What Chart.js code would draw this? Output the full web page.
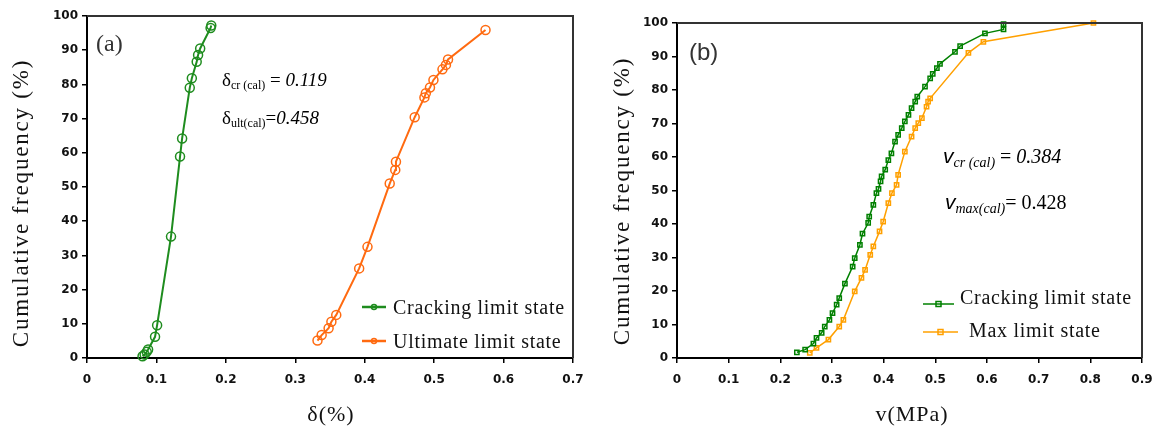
<!DOCTYPE html>
<html><head><meta charset="utf-8">
<script src="https://cdn.jsdelivr.net/npm/chart.js@4/dist/chart.umd.min.js"></script>
<style>
html,body{margin:0;padding:0;background:#fff;}
#wrap{position:relative;width:1160px;height:438px;overflow:hidden;background:#fff;}
canvas{position:absolute;top:0;}
</style></head><body>
<div id="wrap">
<canvas id="ca" width="590" height="438" style="left:0"></canvas>
<canvas id="cb" width="570" height="438" style="left:590px"></canvas>
</div>
<script>
// ---- Panel (a) data ----
const crackA_delta = [0.080,0.083,0.086,0.088,0.098,0.101,0.121,0.134,0.137,0.148,0.151,0.158,0.160,0.163,0.178,0.179];
const crackA_freq  = [0.5,1.0,1.8,2.5,6.2,9.6,35.5,58.9,64.2,79.0,81.8,86.6,88.6,90.5,96.5,97.2];
const ultA_delta = [0.332,0.338,0.348,0.352,0.359,0.392,0.404,0.436,0.444,0.445,0.472,0.486,0.488,0.494,0.499,0.512,0.517,0.520,0.574];
const ultA_freq  = [5.1,6.7,8.7,10.6,12.6,26.2,32.5,51.0,55.0,57.4,70.4,76.2,77.4,79.1,81.3,84.4,85.7,87.3,95.9];
// ---- Panel (b) data ----
const crackB_v = [0.232,0.248,0.264,0.270,0.280,0.286,0.295,0.301,0.309,0.314,0.325,0.340,0.344,0.354,0.359,0.370,0.372,0.380,0.386,0.390,0.394,0.396,0.403,0.409,0.415,0.422,0.428,0.435,0.441,0.448,0.454,0.461,0.465,0.480,0.490,0.495,0.503,0.509,0.538,0.548,0.596,0.632,0.632];
const crackB_freq = [1.7,2.5,4.3,6.0,7.5,9.4,11.4,13.4,15.9,17.9,22.2,27.3,29.8,33.8,37.1,40.3,42.2,45.7,49.2,50.5,52.7,54.2,56.2,59.1,61.1,64.6,66.6,68.6,70.6,72.6,74.6,76.5,78.0,81.0,83.5,84.8,86.5,87.8,91.4,93.1,96.9,98.1,99.7];
const maxB_v = [0.257,0.270,0.293,0.314,0.322,0.344,0.357,0.364,0.374,0.380,0.392,0.399,0.409,0.416,0.425,0.428,0.441,0.454,0.461,0.467,0.474,0.483,0.486,0.490,0.564,0.593,0.806];
const maxB_freq = [1.5,3.0,5.5,9.4,11.4,19.9,23.9,26.3,30.8,33.3,37.8,40.7,46.2,49.2,51.7,54.7,61.6,66.1,68.6,70.1,71.6,75.0,76.5,77.5,91.1,94.4,100.0];
// ---- tick labels ----
const yTicks = ['0','10','20','30','40','50','60','70','80','90','100'];
const xTicksA = ['0','0.1','0.2','0.3','0.4','0.5','0.6','0.7'];
const xTicksB = ['0','0.1','0.2','0.3','0.4','0.5','0.6','0.7','0.8','0.9'];
const seriesNamesA = ['Cracking limit state','Ultimate limit state'];
const seriesNamesB = ['Cracking limit state','Max limit state'];

const toPts = (xs, ys) => xs.map((x, i) => ({x, y: ys[i]}));
const TICK_FONT = {family: 'DejaVu Sans', size: 12, weight: 'bold'};
const SERIF = "'Liberation Serif', 'Times New Roman', serif";

function runs(ctx, x, y, parts) {
  let cx = x;
  for (const p of parts) {
    ctx.font = p.f;
    ctx.fillText(p.t, cx, y + (p.dy || 0));
    cx += ctx.measureText(p.t).width;
  }
}
function vTitle(ctx, text, cx, cy, font, ls) {
  ctx.save(); ctx.translate(cx, cy); ctx.rotate(-Math.PI / 2);
  ctx.font = font; ctx.letterSpacing = ls; ctx.textAlign = 'center'; ctx.textBaseline = 'middle';
  ctx.fillStyle = '#111'; ctx.fillText(text, 0, 0); ctx.restore();
}
function hTitle(ctx, text, cx, cy, font, ls) {
  ctx.save(); ctx.font = font; ctx.letterSpacing = ls; ctx.textAlign = 'center'; ctx.textBaseline = 'middle';
  ctx.fillStyle = '#111'; ctx.fillText(text, cx, cy); ctx.restore();
}
function frame(chart) {
  const {ctx, chartArea: a} = chart;
  ctx.save(); ctx.strokeStyle = '#333'; ctx.lineWidth = 2;
  ctx.beginPath(); ctx.moveTo(a.left, a.top); ctx.lineTo(a.right, a.top); ctx.lineTo(a.right, a.bottom); ctx.stroke();
  ctx.restore();
}
function legendEntry(ctx, x1, x2, ly, tx, ty, color, label, style, lw) {
  ctx.save();
  ctx.strokeStyle = color; ctx.lineWidth = lw;
  ctx.beginPath(); ctx.moveTo(x1, ly); ctx.lineTo(x2, ly); ctx.stroke();
  const mx = (x1 + x2) / 2;
  ctx.lineWidth = 1.5;
  if (style === 'circle') { ctx.beginPath(); ctx.arc(mx, ly, 2.5, 0, Math.PI * 2); ctx.stroke(); }
  else { ctx.strokeRect(mx - 2.5, ly - 2.5, 5, 5); }
  ctx.fillStyle = '#111'; ctx.font = '20px ' + SERIF; ctx.letterSpacing = '0.7px';
  ctx.textBaseline = 'alphabetic'; ctx.fillText(label, tx, ty);
  ctx.restore();
}

const GREEN_A = '#1E8C1E', ORANGE_A = '#FF6A10', GREEN_B = '#008000', ORANGE_B = '#FFA000';

const decoA = {
  id: 'decoA',
  afterDraw(chart) {
    const ctx = chart.ctx;
    frame(chart);
    ctx.save();
    ctx.fillStyle = '#333'; ctx.textBaseline = 'alphabetic';
    ctx.font = '24px ' + SERIF; ctx.fillText('(a)', 96, 51);
    ctx.fillStyle = '#000';
    runs(ctx, 222, 86, [
      {t: 'δ', f: '19px ' + SERIF}, {t: 'cr (cal)', f: '12px ' + SERIF, dy: 3},
      {t: ' = ', f: '19px ' + SERIF}, {t: '0.119', f: 'italic 19px ' + SERIF}]);
    runs(ctx, 222, 124, [
      {t: 'δ', f: '19px ' + SERIF}, {t: 'ult(cal)', f: '12px ' + SERIF, dy: 3},
      {t: '=', f: '19px ' + SERIF}, {t: '0.458', f: 'italic 19px ' + SERIF}]);
    ctx.restore();
    vTitle(ctx, 'Cumulative frequency (%)', 22, 203, '23px ' + SERIF, '1.8px');
    hTitle(ctx, 'δ(%)', 331, 415, '22px ' + SERIF, '1px');
    legendEntry(ctx, 362, 386, 307, 393, 314, GREEN_A, seriesNamesA[0], 'circle', 2.5);
    legendEntry(ctx, 362, 386, 341, 393, 348, ORANGE_A, seriesNamesA[1], 'circle', 2.5);
  }
};
const decoB = {
  id: 'decoB',
  afterDraw(chart) {
    const ctx = chart.ctx;
    frame(chart);
    ctx.save();
    ctx.fillStyle = '#333'; ctx.textBaseline = 'alphabetic';
    ctx.font = "24px 'Liberation Sans', Arial, sans-serif"; ctx.fillText('(b)', 99, 60);
    ctx.fillStyle = '#000';
    runs(ctx, 353, 163, [
      {t: 'v', f: "italic 21px 'Liberation Sans', Arial, sans-serif"}, {t: 'cr (cal)', f: 'italic 14px ' + SERIF, dy: 4},
      {t: ' = ', f: '20px ' + SERIF}, {t: '0.384', f: 'italic 20px ' + SERIF}]);
    runs(ctx, 355, 209, [
      {t: 'v', f: "italic 21px 'Liberation Sans', Arial, sans-serif"}, {t: 'max(cal)', f: 'italic 14px ' + SERIF, dy: 4},
      {t: '= 0.428', f: '20px ' + SERIF}]);
    ctx.restore();
    vTitle(ctx, 'Cumulative frequency (%)', 33, 201, '23px ' + SERIF, '1.8px');
    hTitle(ctx, 'v(MPa)', 322, 415, '22px ' + SERIF, '1px');
    legendEntry(ctx, 333, 364, 304, 370, 304, GREEN_B, seriesNamesB[0], 'rect', 1.5);
    legendEntry(ctx, 333, 368, 332, 379, 337, ORANGE_B, seriesNamesB[1], 'rect', 1.5);
  }
};

function ds(label, xs, ys, color, style, r, lw) {
  return {
    label, data: toPts(xs, ys), showLine: true, borderColor: color, borderWidth: lw,
    backgroundColor: 'rgba(0,0,0,0)', pointStyle: style, pointRadius: r, pointBorderWidth: 1.5,
    pointBorderColor: color, pointBackgroundColor: 'rgba(0,0,0,0)', tension: 0, clip: false
  };
}
function opts(xmax, xTicks, pad) {
  return {
    responsive: false, animation: false, devicePixelRatio: 1,
    layout: {padding: pad},
    plugins: {legend: {display: false}, tooltip: {enabled: false}},
    scales: {
      x: {
        type: 'linear', min: 0, max: xmax,
        ticks: {stepSize: 0.1, callback: (v, i) => xTicks[i], font: TICK_FONT, color: '#111', padding: 10, maxRotation: 0, autoSkip: false},
        grid: {display: true, drawOnChartArea: false, drawTicks: true, tickLength: 5, color: '#000', lineWidth: 1.5},
        border: {display: true, color: '#000', width: 2},
        afterFit: s => { s.height = 80; s.paddingLeft = 0; s.paddingRight = 0; }
      },
      y: {
        type: 'linear', min: 0, max: 100,
        ticks: {stepSize: 10, callback: (v, i) => yTicks[i], font: TICK_FONT, color: '#111', padding: 4},
        grid: {display: true, drawOnChartArea: false, drawTicks: true, tickLength: 5, color: '#000', lineWidth: 1.5},
        border: {display: true, color: '#000', width: 2},
        afterFit: s => { s.width = 47; s.paddingTop = 0; s.paddingBottom = 0; }
      }
    }
  };
}

new Chart(document.getElementById('ca'), {
  type: 'scatter',
  data: {datasets: [
    ds(seriesNamesA[0], crackA_delta, crackA_freq, GREEN_A, 'circle', 4.5, 2),
    ds(seriesNamesA[1], ultA_delta, ultA_freq, ORANGE_A, 'circle', 4.5, 2)
  ]},
  options: opts(0.7, xTicksA, {left: 40, right: 17, top: 16, bottom: 0}),
  plugins: [decoA]
});
new Chart(document.getElementById('cb'), {
  type: 'scatter',
  data: {datasets: [
    ds(seriesNamesB[0], crackB_v, crackB_freq, GREEN_B, 'rect', 3, 1.5),
    ds(seriesNamesB[1], maxB_v, maxB_freq, ORANGE_B, 'rect', 3, 1.5)
  ]},
  options: opts(0.9, xTicksB, {left: 40, right: 18, top: 23, bottom: 0}),
  plugins: [decoB]
});
</script>
</body></html>
